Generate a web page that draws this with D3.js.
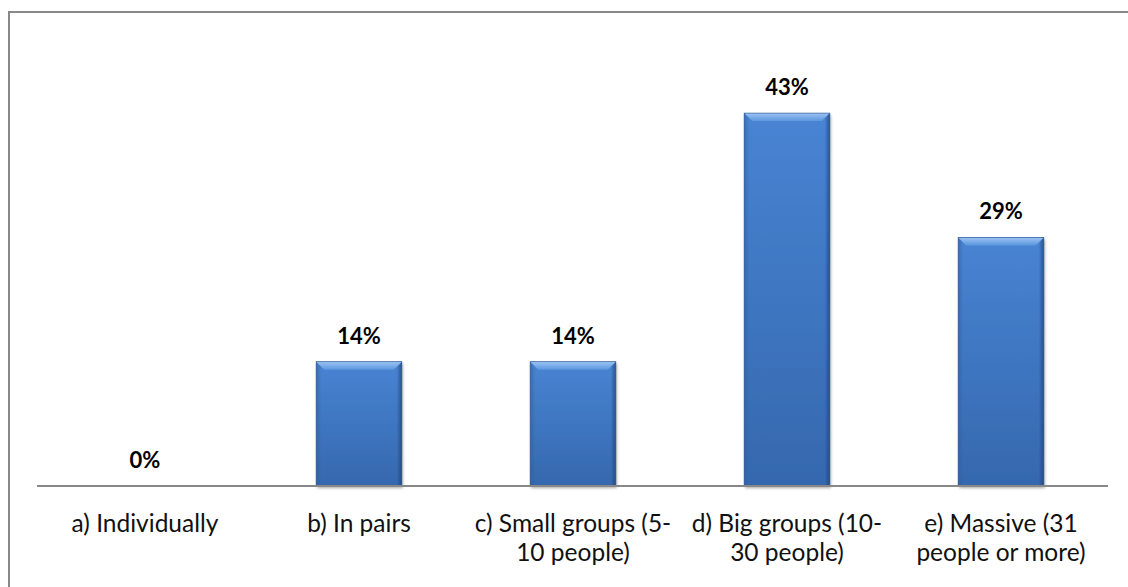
<!DOCTYPE html>
<html><head><meta charset="utf-8">
<script src="https://cdn.jsdelivr.net/npm/d3@7"></script>
<style>html,body{margin:0;padding:0;background:#fff;}svg{display:block;}</style>
</head><body>
<svg id="chart" width="1128" height="587"></svg>
<script>
const categories = ["a) Individually","b) In pairs","c) Small groups (5-10 people)","d) Big groups (10-30 people)","e) Massive (31 people or more)"];
const categoryLines = [["a) Individually"],["b) In pairs"],["c) Small groups (5-","10 people)"],["d) Big groups (10-","30 people)"],["e) Massive (31","people or more)"]];
const values = [0, 14.29, 14.29, 42.86, 28.57];
const valueLabels = ["0%","14%","14%","43%","29%"];

const svg = d3.select("#chart");
const W = 1128, H = 587;
const axisY = 486;
const x = d3.scaleBand().domain(categories).range([38,1108]).paddingInner(0.6).paddingOuter(0.3);
const y = d3.scaleLinear().domain([0,50]).range([axisY,51]);

const defs = svg.append("defs");
const g1 = defs.append("linearGradient").attr("id","barGrad").attr("x1",0).attr("y1",0).attr("x2",0).attr("y2",1);
g1.append("stop").attr("offset","0%").attr("stop-color","#4884D3");
g1.append("stop").attr("offset","100%").attr("stop-color","#3568AE");
const g2 = defs.append("linearGradient").attr("id","sideGrad").attr("x1",0).attr("y1",0).attr("x2",1).attr("y2",0);
g2.append("stop").attr("offset","0%").attr("stop-color","#2E5C9C").attr("stop-opacity",0.55);
g2.append("stop").attr("offset","6%").attr("stop-color","#2E5C9C").attr("stop-opacity",0);
g2.append("stop").attr("offset","94%").attr("stop-color","#1E3F70").attr("stop-opacity",0);
g2.append("stop").attr("offset","100%").attr("stop-color","#1E3F70").attr("stop-opacity",0.7);
const g3 = defs.append("linearGradient").attr("id","bevelGrad").attr("x1",0).attr("y1",0).attr("x2",0).attr("y2",1);
g3.append("stop").attr("offset","0%").attr("stop-color","#9DC4F2");
g3.append("stop").attr("offset","100%").attr("stop-color","#5B96DF");
const f = defs.append("filter").attr("id","shadow").attr("x","-20%").attr("y","-20%").attr("width","140%").attr("height","140%");
f.append("feDropShadow").attr("dx",1).attr("dy",2).attr("stdDeviation",1.5).attr("flood-color","#000").attr("flood-opacity",0.35);

// outer frame (top and left visible)
svg.append("line").attr("x1",8).attr("y1",12).attr("x2",W).attr("y2",12).attr("stroke","#888").attr("stroke-width",2);
svg.append("line").attr("x1",9).attr("y1",12).attr("x2",9).attr("y2",H).attr("stroke","#888").attr("stroke-width",2);

const bars = svg.append("g").selectAll("g").data(categories).join("g");
bars.each(function(c,i){
  const v = values[i];
  if (v <= 0) return;
  const gx = x(c), bw = x.bandwidth(), top = y(v), h = axisY - top;
  const g = d3.select(this);
  g.append("rect").attr("x",gx).attr("y",top).attr("width",bw).attr("height",h)
    .attr("fill","url(#barGrad)").attr("filter","url(#shadow)");
  g.append("rect").attr("x",gx).attr("y",top).attr("width",bw).attr("height",h).attr("fill","url(#sideGrad)");
  const b = 8;
  g.append("path").attr("d",`M${gx},${top}L${gx+bw},${top}L${gx+bw-b},${top+b}L${gx+b},${top+b}Z`).attr("fill","url(#bevelGrad)");
  g.append("rect").attr("x",gx).attr("y",top).attr("width",bw).attr("height",h)
    .attr("fill","none").attr("stroke","#2A5590").attr("stroke-width",0.8).attr("stroke-opacity",0.8);
});

// axis line
svg.append("line").attr("x1",37).attr("y1",axisY).attr("x2",1108).attr("y2",axisY).attr("stroke","#888").attr("stroke-width",2);

// value labels
svg.append("g").selectAll("text").data(categories).join("text")
  .attr("x",c=>x(c)+x.bandwidth()/2)
  .attr("y",(c,i)=>y(values[i]) - 18)
  .attr("text-anchor","middle")
  .attr("font-family","Lato, sans-serif").attr("font-weight","bold").attr("font-size",22)
  .attr("fill","#000")
  .text((c,i)=>valueLabels[i]);

// category labels
const ct = svg.append("g").selectAll("text").data(categories).join("text")
  .attr("text-anchor","middle")
  .attr("font-family","Lato, sans-serif").attr("font-size",24.5).attr("fill","#111");
ct.each(function(c,i){
  const t = d3.select(this);
  categoryLines[i].forEach((ln,j)=>{
    t.append("tspan").attr("x",x(c)+x.bandwidth()/2).attr("y",532 + j*29).text(ln);
  });
});
</script>
</body></html>
